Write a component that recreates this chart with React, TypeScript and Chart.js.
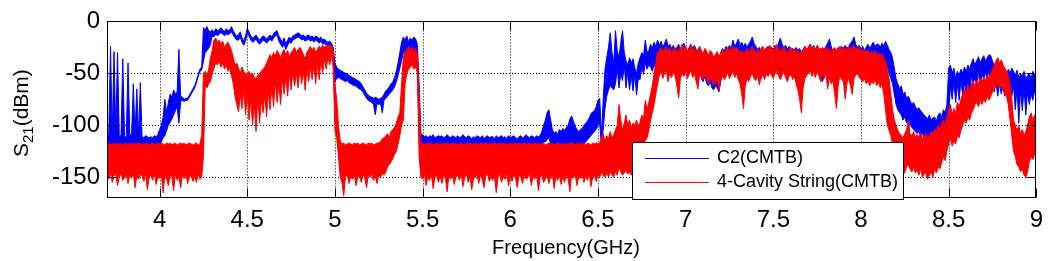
import { useEffect, useRef } from 'react';
import { Chart, registerables } from 'chart.js';

Chart.register(...registerables);

// Sweep grid (GHz): uniform VNA sweep from 3.70 GHz, 0.01 GHz per sample
const FREQ_START = 3.7;
const FREQ_STEP = 0.01;
const X_TICKS = [4, 4.5, 5, 5.5, 6, 6.5, 7, 7.5, 8, 8.5, 9];
const Y_TICKS = [-150, -100, -50, 0];
const SERIES_NAMES = ['C2(CMTB)', '4-Cavity String(CMTB)'];

// C2(CMTB): per-sample max / min of the noisy trace (dBm)
const C2_MAX = [
  -112, -108, -24, -110, -29, -108, -30, -111, -109, -36, // 3.7
  -110, -112, -40, -108, -111, -60, -109, -65, -110, -59, // 3.8
  -111, -112, -110, -111, -112, -111, -112, -110, -111, -109, // 3.9
  -104, -100, -92, -75, -88, -78, -70, -73, -66, -70, // 4.0
  -68, -27, -72, -73, -75, -74, -74, -71, -68, -65, // 4.1
  -62, -57, -51, -46, -44, -6, -8, -5, -9, -10, // 4.2
  -8, -11, -7, -9, -8, -6, -8, -10, -7, -9, // 4.3
  -8, -5, -9, -12, -14, -13, -10, -16, -19, -14, // 4.4
  -7, -10, -14, -16, -15, -13, -16, -18, -16, -14, // 4.5
  -15, -17, -15, -13, -15, -12, -10, -9, -14, -17, // 4.6
  -20, -16, -22, -18, -15, -17, -14, -13, -12, -11, // 4.7
  -12, -14, -13, -15, -14, -13, -15, -14, -16, -14, // 4.8
  -15, -17, -15, -18, -17, -19, -20, -19, -21, -25, // 4.9
  -40, -44, -46, -47, -48, -49, -50, -50, -52, -53, // 5.0
  -54, -55, -56, -57, -58, -60, -63, -66, -69, -71, // 5.1
  -72, -73, -74, -73, -74, -75, -74, -73, -70, -67, // 5.2
  -65, -63, -60, -58, -54, -48, -40, -30, -20, -15, // 5.3
  -18, -14, -20, -16, -18, -15, -17, -22, -60, -108, // 5.4
  -109, -111, -110, -112, -110, -111, -109, -112, -111, -110, // 5.5
  -111, -110, -112, -111, -109, -111, -112, -110, -111, -112, // 5.6
  -110, -112, -111, -109, -111, -112, -110, -111, -113, -111, // 5.7
  -112, -110, -111, -112, -110, -113, -111, -110, -112, -111, // 5.8
  -111, -113, -110, -112, -111, -110, -112, -111, -113, -110, // 5.9
  -112, -111, -110, -112, -113, -111, -110, -112, -111, -109, // 6.0
  -111, -112, -110, -111, -112, -110, -111, -110, -106, -100, // 6.1
  -95, -88, -85, -95, -104, -108, -106, -109, -104, -106, // 6.2
  -103, -105, -102, -100, -94, -91, -96, -101, -104, -106, // 6.3
  -104, -103, -100, -98, -96, -93, -89, -87, -86, -82, // 6.4
  -76, -74, -110, -75, -46, -35, -25, -11, -30, -40, // 6.5
  -9, -28, -35, -20, -9, -30, -38, -42, -35, -40, // 6.6
  -36, -45, -50, -40, -35, -30, -33, -18, -30, -28, // 6.7
  -22, -26, -20, -24, -18, -23, -19, -25, -21, -17, // 6.8
  -24, -22, -26, -23, -28, -25, -22, -27, -24, -21, // 6.9
  -26, -29, -25, -22, -26, -23, -27, -30, -26, -29, // 7.0
  -32, -28, -31, -34, -30, -33, -36, -32, -35, -38, // 7.1
  -30, -26, -29, -24, -27, -23, -26, -18, -24, -21, // 7.2
  -17, -23, -20, -24, -21, -25, -22, -19, -15, -21, // 7.3
  -24, -27, -25, -29, -26, -30, -27, -24, -28, -25, // 7.4
  -27, -23, -26, -21, -16, -22, -25, -23, -27, -24, // 7.5
  -28, -26, -29, -25, -28, -26, -30, -27, -24, -28, // 7.6
  -25, -22, -26, -23, -27, -24, -28, -26, -30, -27, // 7.7
  -24, -21, -17, -24, -29, -32, -28, -25, -28, -24, // 7.8
  -27, -23, -26, -24, -21, -19, -15, -22, -25, -23, // 7.9
  -27, -24, -28, -25, -22, -26, -23, -20, -24, -22, // 8.0
  -22, -25, -21, -24, -19, -23, -27, -30, -35, -45, // 8.1
  -55, -60, -65, -62, -70, -68, -74, -72, -76, -80, // 8.2
  -78, -82, -85, -83, -86, -88, -90, -92, -94, -90, // 8.3
  -95, -93, -92, -96, -90, -88, -92, -85, -88, -80, // 8.4
  -45, -42, -50, -45, -55, -48, -52, -46, -50, -44, // 8.5
  -48, -42, -46, -40, -36, -42, -38, -34, -40, -36, // 8.6
  -33, -38, -35, -32, -33, -38, -42, -45, -43, -48, // 8.7
  -46, -50, -48, -52, -46, -50, -45, -48, -52, -47, // 8.8
  -55, -50, -53, -48, -56, -52, -50, -55, -48, -52, // 8.9
  -50, // 9.0
];

const C2_MIN = [
  -122, -122, -122, -122, -122, -122, -122, -122, -122, -122, // 3.7
  -122, -122, -122, -122, -122, -122, -122, -122, -122, -122, // 3.8
  -122, -122, -122, -122, -122, -122, -122, -122, -122, -122, // 3.9
  -120, -116, -112, -110, -105, -100, -97, -94, -90, -86, // 4.0
  -82, -98, -77, -76, -77, -76, -76, -73, -70, -67, // 4.1
  -64, -59, -53, -48, -47, -38, -30, -28, -26, -22, // 4.2
  -14, -15, -12, -14, -12, -11, -12, -14, -12, -13, // 4.3
  -12, -10, -13, -16, -18, -18, -15, -20, -23, -19, // 4.4
  -12, -14, -18, -20, -19, -17, -20, -22, -20, -18, // 4.5
  -19, -21, -19, -17, -19, -16, -14, -13, -19, -22, // 4.6
  -25, -22, -27, -23, -20, -21, -18, -17, -16, -15, // 4.7
  -16, -18, -17, -19, -18, -17, -19, -18, -20, -18, // 4.8
  -19, -21, -19, -22, -21, -23, -24, -23, -25, -38, // 4.9
  -58, -55, -54, -55, -56, -57, -58, -57, -59, -60, // 5.0
  -61, -62, -62, -64, -65, -66, -68, -71, -74, -76, // 5.1
  -77, -78, -80, -90, -79, -80, -79, -88, -76, -74, // 5.2
  -72, -70, -68, -66, -63, -58, -52, -45, -38, -30, // 5.3
  -32, -28, -35, -30, -32, -28, -34, -40, -112, -122, // 5.4
  -122, -122, -122, -122, -122, -122, -122, -122, -122, -122, // 5.5
  -122, -122, -122, -122, -122, -122, -122, -122, -122, -122, // 5.6
  -122, -122, -122, -122, -122, -122, -122, -122, -122, -122, // 5.7
  -122, -122, -122, -122, -122, -122, -122, -122, -122, -122, // 5.8
  -122, -122, -122, -122, -122, -122, -122, -122, -122, -122, // 5.9
  -122, -122, -122, -122, -122, -122, -122, -122, -122, -122, // 6.0
  -122, -122, -122, -122, -122, -122, -122, -122, -118, -116, // 6.1
  -116, -114, -112, -118, -120, -120, -120, -120, -120, -120, // 6.2
  -120, -120, -120, -120, -118, -116, -118, -120, -120, -120, // 6.3
  -120, -120, -118, -116, -114, -112, -110, -108, -106, -104, // 6.4
  -100, -98, -120, -104, -84, -72, -66, -62, -64, -66, // 6.5
  -60, -45, -64, -50, -57, -42, -64, -48, -66, -52, // 6.6
  -67, -50, -71, -55, -56, -44, -51, -40, -46, -42, // 6.7
  -44, -48, -42, -45, -40, -44, -42, -47, -43, -40, // 6.8
  -45, -42, -48, -44, -52, -50, -46, -48, -44, -42, // 6.9
  -46, -50, -45, -43, -47, -44, -50, -54, -48, -55, // 7.0
  -58, -52, -60, -62, -58, -64, -66, -62, -64, -68, // 7.1
  -58, -50, -52, -46, -48, -44, -47, -42, -45, -43, // 7.2
  -40, -44, -42, -50, -45, -48, -44, -42, -40, -43, // 7.3
  -46, -50, -52, -55, -50, -54, -50, -46, -49, -47, // 7.4
  -49, -45, -48, -43, -40, -44, -47, -45, -50, -47, // 7.5
  -52, -50, -54, -49, -52, -50, -55, -52, -48, -50, // 7.6
  -47, -44, -48, -46, -50, -47, -52, -55, -58, -53, // 7.7
  -50, -46, -44, -52, -58, -62, -56, -50, -52, -48, // 7.8
  -50, -46, -49, -47, -44, -42, -40, -44, -47, -45, // 7.9
  -50, -46, -50, -47, -44, -48, -45, -42, -46, -44, // 8.0
  -42, -45, -40, -44, -40, -45, -50, -55, -60, -70, // 8.1
  -80, -85, -88, -90, -95, -92, -98, -96, -100, -102, // 8.2
  -104, -106, -108, -106, -110, -108, -112, -110, -112, -110, // 8.3
  -112, -110, -111, -112, -110, -108, -110, -106, -108, -104, // 8.4
  -90, -62, -75, -58, -78, -60, -76, -56, -72, -58, // 8.5
  -72, -55, -70, -52, -60, -54, -62, -48, -64, -50, // 8.6
  -56, -48, -58, -45, -60, -50, -68, -58, -72, -60, // 8.7
  -70, -62, -72, -64, -70, -60, -72, -62, -85, -64, // 8.8
  -98, -66, -86, -64, -90, -68, -80, -70, -76, -66, // 8.9
  -78, // 9.0
];

// 4-Cavity String(CMTB): per-sample max / min of the noisy trace (dBm)
const CAV_MAX = [
  -118, -117, -119, -118, -117, -118, -120, -117, -118, -119, // 3.7
  -117, -118, -119, -117, -118, -117, -119, -118, -117, -118, // 3.8
  -118, -119, -117, -118, -120, -118, -117, -118, -119, -117, // 3.9
  -118, -117, -118, -119, -117, -118, -117, -119, -118, -117, // 4.0
  -119, -118, -117, -118, -117, -119, -118, -117, -118, -119, // 4.1
  -118, -117, -119, -118, -110, -50, -48, -52, -46, -35, // 4.2
  -28, -18, -16, -20, -18, -22, -19, -25, -22, -20, // 4.3
  -24, -28, -35, -42, -40, -45, -50, -44, -48, -52, // 4.4
  -50, -48, -52, -50, -54, -55, -52, -50, -48, -46, // 4.5
  -44, -40, -36, -32, -35, -30, -33, -28, -31, -35, // 4.6
  -30, -27, -32, -28, -34, -30, -28, -25, -30, -27, // 4.7
  -25, -28, -32, -36, -30, -27, -24, -28, -25, -30, // 4.8
  -27, -24, -26, -23, -25, -24, -22, -25, -23, -28, // 4.9
  -60, -75, -100, -115, -118, -117, -119, -118, -117, -118, // 5.0
  -119, -117, -118, -117, -119, -118, -117, -118, -119, -117, // 5.1
  -118, -117, -119, -118, -117, -117, -116, -113, -112, -110, // 5.2
  -108, -112, -106, -104, -102, -98, -92, -88, -60, -35, // 5.3
  -28, -30, -24, -28, -25, -30, -26, -32, -70, -118, // 5.4
  -117, -118, -119, -117, -118, -117, -119, -118, -117, -118, // 5.5
  -118, -119, -117, -118, -117, -118, -119, -117, -118, -117, // 5.6
  -119, -118, -117, -118, -119, -117, -118, -117, -118, -119, // 5.7
  -117, -118, -119, -117, -118, -118, -117, -119, -118, -117, // 5.8
  -118, -117, -118, -119, -117, -118, -117, -118, -119, -118, // 5.9
  -117, -119, -118, -117, -118, -117, -119, -118, -117, -118, // 6.0
  -118, -117, -119, -118, -117, -118, -117, -119, -118, -117, // 6.1
  -119, -118, -117, -118, -117, -119, -118, -117, -118, -119, // 6.2
  -117, -118, -119, -117, -118, -117, -118, -119, -117, -118, // 6.3
  -118, -117, -118, -119, -117, -118, -119, -117, -118, -117, // 6.4
  -118, -117, -112, -108, -115, -110, -113, -106, -112, -109, // 6.5
  -104, -100, -80, -95, -104, -98, -90, -100, -95, -102, // 6.6
  -98, -100, -95, -102, -97, -90, -94, -76, -85, -78, // 6.7
  -70, -62, -50, -40, -30, -28, -25, -30, -27, -24, // 6.8
  -29, -26, -31, -27, -25, -30, -28, -26, -22, -27, // 6.9
  -24, -29, -26, -23, -28, -25, -30, -27, -24, -28, // 7.0
  -31, -26, -29, -33, -28, -30, -35, -32, -29, -34, // 7.1
  -30, -27, -31, -28, -25, -29, -26, -24, -28, -25, // 7.2
  -27, -30, -28, -32, -29, -26, -30, -27, -24, -28, // 7.3
  -31, -27, -29, -26, -24, -28, -25, -27, -23, -26, // 7.4
  -28, -25, -22, -26, -29, -27, -24, -28, -31, -27, // 7.5
  -25, -29, -26, -30, -28, -31, -29, -27, -24, -28, // 7.6
  -25, -22, -26, -24, -27, -23, -26, -28, -25, -27, // 7.7
  -24, -29, -26, -30, -27, -25, -29, -26, -24, -27, // 7.8
  -25, -28, -26, -24, -28, -26, -23, -27, -25, -28, // 7.9
  -26, -29, -27, -30, -28, -32, -29, -31, -28, -33, // 8.0
  -30, -34, -31, -35, -38, -45, -55, -70, -85, -95, // 8.1
  -100, -105, -108, -110, -112, -108, -104, -95, -108, -110, // 8.2
  -106, -112, -109, -111, -107, -113, -110, -108, -112, -110, // 8.3
  -106, -108, -104, -106, -100, -104, -98, -95, -100, -92, // 8.4
  -85, -80, -90, -84, -88, -78, -82, -75, -70, -65, // 8.5
  -72, -62, -68, -60, -58, -62, -57, -60, -55, -58, // 8.6
  -54, -57, -52, -55, -50, -46, -42, -38, -35, -40, // 8.7
  -37, -42, -45, -48, -52, -60, -75, -95, -100, -105, // 8.8
  -100, -108, -104, -110, -106, -100, -92, -88, -95, -90, // 8.9
  -95, // 9.0
];

const CAV_MIN = [
  -148, -152, -146, -155, -149, -147, -158, -150, -146, -153, // 3.7
  -150, -147, -156, -148, -151, -146, -160, -149, -152, -147, // 3.8
  -149, -154, -147, -162, -150, -148, -153, -146, -157, -150, // 3.9
  -151, -147, -165, -149, -152, -158, -148, -150, -163, -147, // 4.0
  -153, -149, -160, -148, -151, -147, -156, -150, -148, -154, // 4.1
  -149, -155, -147, -152, -150, -130, -62, -64, -60, -58, // 4.2
  -50, -45, -40, -42, -38, -44, -40, -46, -42, -48, // 4.3
  -45, -52, -60, -72, -80, -87, -70, -84, -65, -90, // 4.4
  -70, -95, -75, -100, -80, -106, -72, -98, -76, -88, // 4.5
  -70, -92, -68, -85, -62, -82, -58, -78, -60, -80, // 4.6
  -55, -70, -52, -72, -50, -66, -48, -62, -50, -64, // 4.7
  -45, -60, -48, -66, -46, -58, -44, -56, -42, -60, // 4.8
  -40, -56, -38, -50, -36, -46, -34, -42, -33, -45, // 4.9
  -105, -112, -130, -150, -155, -168, -150, -147, -156, -149, // 5.0
  -152, -146, -158, -150, -148, -155, -147, -151, -160, -148, // 5.1
  -150, -147, -153, -149, -156, -148, -150, -146, -148, -145, // 5.2
  -140, -138, -135, -132, -128, -125, -118, -110, -100, -95, // 5.3
  -60, -50, -46, -44, -42, -46, -44, -50, -130, -150, // 5.4
  -152, -147, -158, -149, -153, -146, -161, -150, -148, -155, // 5.5
  -149, -156, -147, -151, -164, -148, -152, -147, -157, -150, // 5.6
  -148, -153, -146, -159, -150, -147, -155, -149, -162, -151, // 5.7
  -150, -147, -156, -148, -152, -160, -149, -146, -154, -150, // 5.8
  -153, -148, -165, -150, -147, -155, -149, -152, -146, -158, // 5.9
  -149, -154, -147, -151, -160, -148, -150, -156, -147, -152, // 6.0
  -150, -147, -158, -149, -152, -146, -163, -150, -148, -155, // 6.1
  -152, -148, -156, -150, -147, -161, -149, -153, -148, -157, // 6.2
  -149, -155, -147, -152, -164, -148, -151, -147, -158, -150, // 6.3
  -151, -147, -155, -149, -153, -146, -159, -150, -148, -154, // 6.4
  -148, -150, -145, -148, -150, -146, -150, -145, -148, -150, // 6.5
  -145, -148, -140, -145, -148, -146, -144, -147, -145, -148, // 6.6
  -140, -130, -125, -125, -122, -120, -118, -115, -112, -105, // 6.7
  -95, -88, -80, -70, -60, -52, -48, -55, -50, -47, // 6.8
  -58, -50, -54, -49, -52, -62, -74, -55, -50, -53, // 6.9
  -48, -55, -51, -47, -54, -50, -58, -65, -50, -53, // 7.0
  -56, -52, -55, -60, -54, -57, -62, -58, -55, -66, // 7.1
  -57, -52, -56, -53, -50, -55, -51, -48, -54, -50, // 7.2
  -56, -60, -70, -84, -62, -55, -58, -53, -50, -55, // 7.3
  -57, -52, -61, -54, -50, -56, -51, -53, -49, -52, // 7.4
  -55, -50, -47, -53, -56, -52, -48, -54, -58, -53, // 7.5
  -50, -56, -52, -60, -66, -75, -88, -64, -55, -52, // 7.6
  -50, -47, -53, -49, -54, -48, -52, -58, -51, -55, // 7.7
  -50, -65, -54, -60, -57, -70, -84, -62, -52, -56, // 7.8
  -58, -75, -60, -54, -62, -70, -55, -52, -50, -54, // 7.9
  -56, -58, -55, -60, -57, -62, -58, -60, -56, -62, // 8.0
  -58, -64, -60, -70, -85, -100, -105, -110, -118, -122, // 8.1
  -125, -135, -140, -145, -148, -145, -140, -138, -142, -145, // 8.2
  -140, -146, -143, -148, -142, -150, -147, -146, -152, -148, // 8.3
  -145, -150, -142, -146, -140, -142, -136, -130, -134, -125, // 8.4
  -118, -112, -120, -115, -118, -110, -112, -105, -100, -95, // 8.5
  -98, -92, -95, -88, -85, -80, -78, -82, -76, -80, // 8.6
  -75, -78, -72, -76, -72, -68, -65, -62, -60, -64, // 8.7
  -62, -66, -70, -72, -80, -95, -110, -125, -130, -138, // 8.8
  -140, -145, -142, -148, -150, -145, -135, -130, -133, -128, // 8.9
  -130, // 9.0
];

const BLUE = '#0000ff';
const RED = '#ff0000';
const FONT = "'Liberation Sans', Arial, Helvetica, sans-serif";

const toPoints = (vals: number[]) =>
  vals.map((v, i) => ({ x: +(FREQ_START + i * FREQ_STEP).toFixed(2), y: v }));

const decorPlugin = {
  id: 'decor',
  beforeDraw(chart: any) {
    const { ctx, width, height } = chart;
    ctx.save();
    ctx.fillStyle = '#fff';
    ctx.fillRect(0, 0, width, height);
    ctx.restore();
  },
  beforeDatasetsDraw(chart: any) {
    const { ctx, chartArea: a, scales } = chart;
    ctx.save();
    ctx.strokeStyle = '#000';
    ctx.lineWidth = 1;
    ctx.setLineDash([1, 2]);
    X_TICKS.forEach((v) => {
      const px = Math.round(scales.x.getPixelForValue(v)) + 0.5;
      if (px < a.left + 2 || px > a.right - 2) return;
      ctx.beginPath();
      ctx.moveTo(px, a.top);
      ctx.lineTo(px, a.bottom);
      ctx.stroke();
    });
    Y_TICKS.forEach((v) => {
      const py = Math.round(scales.y.getPixelForValue(v)) + 0.5;
      if (py < a.top + 2 || py > a.bottom - 2) return;
      ctx.beginPath();
      ctx.moveTo(a.left, py);
      ctx.lineTo(a.right, py);
      ctx.stroke();
    });
    ctx.restore();
  },
  afterDraw(chart: any) {
    const { ctx, chartArea: a, scales } = chart;
    ctx.save();
    ctx.strokeStyle = '#000';
    ctx.lineWidth = 1;
    ctx.setLineDash([]);
    const L = Math.round(a.left) + 0.5;
    const R = Math.round(a.right) - 0.5;
    const T = Math.round(a.top) + 0.5;
    const B = Math.round(a.bottom) - 0.5;
    ctx.strokeRect(L, T, R - L, B - T);
    const TL = 9;
    ctx.beginPath();
    X_TICKS.forEach((v) => {
      const px = Math.round(scales.x.getPixelForValue(v)) + 0.5;
      ctx.moveTo(px, B);
      ctx.lineTo(px, B - TL);
      ctx.moveTo(px, T);
      ctx.lineTo(px, T + TL);
    });
    Y_TICKS.forEach((v) => {
      const py = Math.round(scales.y.getPixelForValue(v)) + 0.5;
      ctx.moveTo(L, py);
      ctx.lineTo(L + TL, py);
      ctx.moveTo(R, py);
      ctx.lineTo(R - TL, py);
    });
    ctx.stroke();

    // legend box
    const lx = 632.5, ly = 142.5, lw = 271, lh = 57;
    ctx.fillStyle = '#fff';
    ctx.fillRect(lx, ly, lw, lh);
    ctx.strokeRect(lx, ly, lw, lh);
    const rows = [
      { name: SERIES_NAMES[0], color: BLUE, y: 158.5 },
      { name: SERIES_NAMES[1], color: RED, y: 182.5 },
    ];
    ctx.font = `18px ${FONT}`;
    ctx.textBaseline = 'middle';
    ctx.textAlign = 'left';
    rows.forEach((r) => {
      ctx.strokeStyle = r.color;
      ctx.beginPath();
      ctx.moveTo(645, r.y);
      ctx.lineTo(709, r.y);
      ctx.stroke();
      ctx.fillStyle = '#000';
      ctx.fillText(r.name, 717, r.y);
    });

    // x title
    ctx.fillStyle = '#000';
    ctx.font = `20px ${FONT}`;
    ctx.textAlign = 'center';
    ctx.textBaseline = 'alphabetic';
    ctx.fillText('Frequency(GHz)', 566, 254);

    // y title with subscript, rotated
    ctx.save();
    ctx.translate(28, 157);
    ctx.rotate(-Math.PI / 2);
    ctx.textAlign = 'left';
    ctx.textBaseline = 'alphabetic';
    ctx.font = `21px ${FONT}`;
    ctx.fillText('S', 0, 0);
    let w = ctx.measureText('S').width;
    ctx.font = `15px ${FONT}`;
    ctx.fillText('21', w, 5);
    w += ctx.measureText('21').width;
    ctx.font = `21px ${FONT}`;
    ctx.fillText('(dBm)', w, 0);
    ctx.restore();

    ctx.restore();
  },
};

export default function App() {
  const ref = useRef<HTMLCanvasElement | null>(null);

  useEffect(() => {
    document.body.style.margin = '0';
    const canvas = ref.current;
    if (!canvas) return;
    const chart = new Chart(canvas, {
      type: 'line',
      data: {
        datasets: [
          { label: SERIES_NAMES[1] + ' min', data: toPoints(CAV_MIN), borderColor: RED, backgroundColor: RED, borderWidth: 1, pointRadius: 0, fill: false, order: 0, tension: 0 },
          { label: SERIES_NAMES[1], data: toPoints(CAV_MAX), borderColor: RED, backgroundColor: RED, borderWidth: 1, pointRadius: 0, fill: 0, order: 0, tension: 0 },
          { label: SERIES_NAMES[0] + ' min', data: toPoints(C2_MIN), borderColor: BLUE, backgroundColor: BLUE, borderWidth: 1, pointRadius: 0, fill: false, order: 1, tension: 0 },
          { label: SERIES_NAMES[0], data: toPoints(C2_MAX), borderColor: BLUE, backgroundColor: BLUE, borderWidth: 1, pointRadius: 0, fill: 2, order: 1, tension: 0 },
        ] as any,
      },
      options: {
        animation: false,
        responsive: false,
        devicePixelRatio: 1,
        events: [],
        layout: { padding: { top: 18, right: 14, left: 0, bottom: 0 } },
        plugins: { legend: { display: false }, tooltip: { enabled: false } },
        scales: {
          x: {
            type: 'linear',
            min: 3.7,
            max: 9,
            afterBuildTicks: (s: any) => { s.ticks = X_TICKS.map((v) => ({ value: v })); },
            afterFit: (s: any) => { s.height = 63; },
            ticks: { color: '#000', font: { size: 24, family: FONT }, padding: 8, maxRotation: 0, autoSkip: false, callback: (v: any) => String(v) },
            grid: { display: false, drawTicks: false },
            border: { display: false },
          },
          y: {
            type: 'linear',
            min: -170,
            max: 0,
            afterBuildTicks: (s: any) => { s.ticks = Y_TICKS.map((v) => ({ value: v })); },
            afterFit: (s: any) => { s.width = 107; },
            ticks: { color: '#000', font: { size: 24, family: FONT }, padding: 7, callback: (v: any) => String(v) },
            grid: { display: false, drawTicks: false },
            border: { display: false },
          },
        },
      } as any,
      plugins: [decorPlugin],
    });
    return () => chart.destroy();
  }, []);

  return (
    <div style={{ position: 'fixed', left: 0, top: 0, width: 1051, height: 261, background: '#fff' }}>
      <canvas ref={ref} width={1051} height={261} style={{ display: 'block' }} />
    </div>
  );
}
